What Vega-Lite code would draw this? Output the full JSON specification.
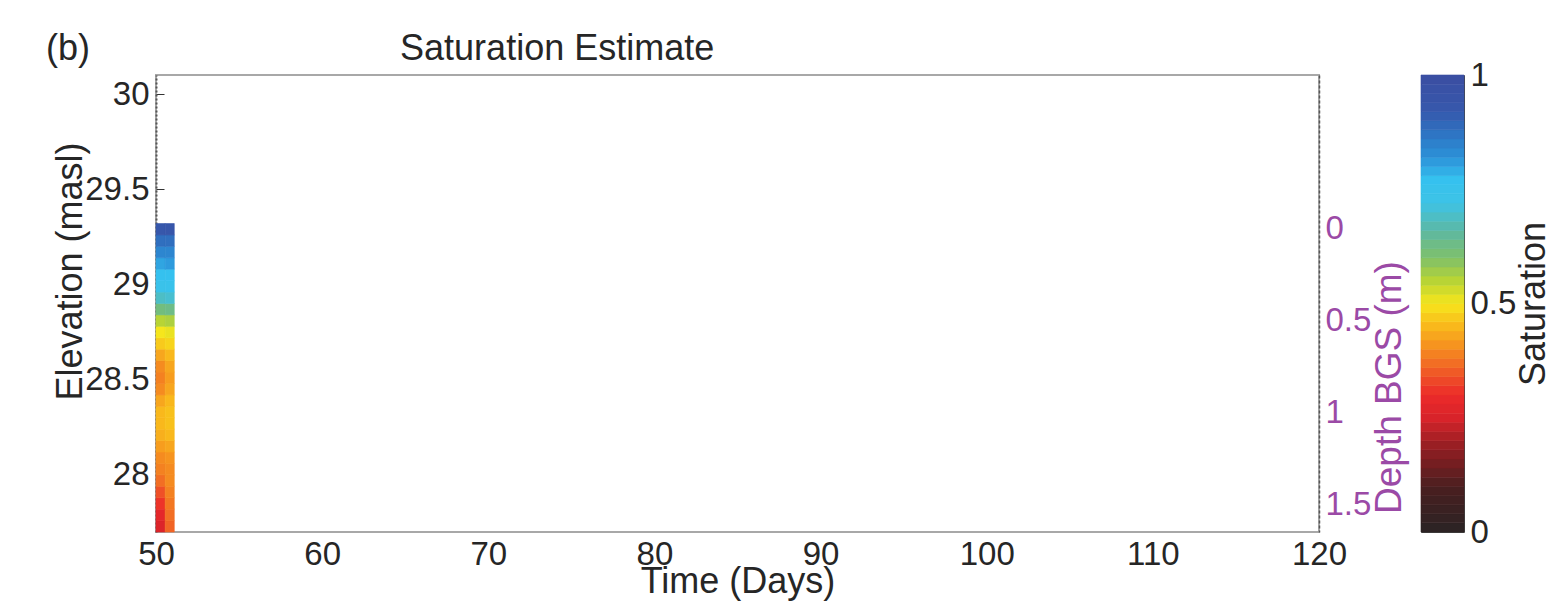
{
  "$schema": "https://vega.github.io/schema/vega-lite/v6.json",
  "background": "#ffffff",
  "padding": {"left": 45, "top": 30, "right": 5, "bottom": 5},
  "config": {
    "font": "Liberation Sans",
    "axis": {"labelFont": "Liberation Sans", "titleFont": "Liberation Sans", "labelFontSize": 33, "titleFontSize": 36, "titleFontWeight": "normal", "labelColor": "#262626", "titleColor": "#262626", "grid": false, "labelFlush": false}
  },
  "datasets": {
    "strip": [
      {"t0": 50, "t1": 50.55, "e0": 27.70, "e1": 27.76, "s": 0.26}, {"t0": 50.55, "t1": 51.1, "e0": 27.70, "e1": 27.76, "s": 0.36},
      {"t0": 50, "t1": 50.55, "e0": 27.76, "e1": 27.82, "s": 0.28}, {"t0": 50.55, "t1": 51.1, "e0": 27.76, "e1": 27.82, "s": 0.37},
      {"t0": 50, "t1": 50.55, "e0": 27.82, "e1": 27.88, "s": 0.31}, {"t0": 50.55, "t1": 51.1, "e0": 27.82, "e1": 27.88, "s": 0.38},
      {"t0": 50, "t1": 50.55, "e0": 27.88, "e1": 27.94, "s": 0.34}, {"t0": 50.55, "t1": 51.1, "e0": 27.88, "e1": 27.94, "s": 0.39},
      {"t0": 50, "t1": 50.55, "e0": 27.94, "e1": 28.00, "s": 0.37}, {"t0": 50.55, "t1": 51.1, "e0": 27.94, "e1": 28.00, "s": 0.40},
      {"t0": 50, "t1": 50.55, "e0": 28.00, "e1": 28.06, "s": 0.39}, {"t0": 50.55, "t1": 51.1, "e0": 28.00, "e1": 28.06, "s": 0.40},
      {"t0": 50, "t1": 50.55, "e0": 28.06, "e1": 28.12, "s": 0.40}, {"t0": 50.55, "t1": 51.1, "e0": 28.06, "e1": 28.12, "s": 0.41},
      {"t0": 50, "t1": 50.55, "e0": 28.12, "e1": 28.18, "s": 0.42}, {"t0": 50.55, "t1": 51.1, "e0": 28.12, "e1": 28.18, "s": 0.43},
      {"t0": 50, "t1": 50.55, "e0": 28.18, "e1": 28.24, "s": 0.44}, {"t0": 50.55, "t1": 51.1, "e0": 28.18, "e1": 28.24, "s": 0.45},
      {"t0": 50, "t1": 50.55, "e0": 28.24, "e1": 28.30, "s": 0.45}, {"t0": 50.55, "t1": 51.1, "e0": 28.24, "e1": 28.30, "s": 0.46},
      {"t0": 50, "t1": 50.55, "e0": 28.30, "e1": 28.36, "s": 0.45}, {"t0": 50.55, "t1": 51.1, "e0": 28.30, "e1": 28.36, "s": 0.46},
      {"t0": 50, "t1": 50.55, "e0": 28.36, "e1": 28.42, "s": 0.43}, {"t0": 50.55, "t1": 51.1, "e0": 28.36, "e1": 28.42, "s": 0.45},
      {"t0": 50, "t1": 50.55, "e0": 28.42, "e1": 28.48, "s": 0.40}, {"t0": 50.55, "t1": 51.1, "e0": 28.42, "e1": 28.48, "s": 0.43},
      {"t0": 50, "t1": 50.55, "e0": 28.48, "e1": 28.54, "s": 0.39}, {"t0": 50.55, "t1": 51.1, "e0": 28.48, "e1": 28.54, "s": 0.42},
      {"t0": 50, "t1": 50.55, "e0": 28.54, "e1": 28.60, "s": 0.40}, {"t0": 50.55, "t1": 51.1, "e0": 28.54, "e1": 28.60, "s": 0.43},
      {"t0": 50, "t1": 50.55, "e0": 28.60, "e1": 28.66, "s": 0.43}, {"t0": 50.55, "t1": 51.1, "e0": 28.60, "e1": 28.66, "s": 0.45},
      {"t0": 50, "t1": 50.55, "e0": 28.66, "e1": 28.72, "s": 0.47}, {"t0": 50.55, "t1": 51.1, "e0": 28.66, "e1": 28.72, "s": 0.48},
      {"t0": 50, "t1": 50.55, "e0": 28.72, "e1": 28.78, "s": 0.50}, {"t0": 50.55, "t1": 51.1, "e0": 28.72, "e1": 28.78, "s": 0.51},
      {"t0": 50, "t1": 50.55, "e0": 28.78, "e1": 28.84, "s": 0.55}, {"t0": 50.55, "t1": 51.1, "e0": 28.78, "e1": 28.84, "s": 0.56},
      {"t0": 50, "t1": 50.55, "e0": 28.84, "e1": 28.90, "s": 0.62}, {"t0": 50.55, "t1": 51.1, "e0": 28.84, "e1": 28.90, "s": 0.63},
      {"t0": 50, "t1": 50.55, "e0": 28.90, "e1": 28.96, "s": 0.69}, {"t0": 50.55, "t1": 51.1, "e0": 28.90, "e1": 28.96, "s": 0.70},
      {"t0": 50, "t1": 50.55, "e0": 28.96, "e1": 29.02, "s": 0.74}, {"t0": 50.55, "t1": 51.1, "e0": 28.96, "e1": 29.02, "s": 0.75},
      {"t0": 50, "t1": 50.55, "e0": 29.02, "e1": 29.08, "s": 0.77}, {"t0": 50.55, "t1": 51.1, "e0": 29.02, "e1": 29.08, "s": 0.77},
      {"t0": 50, "t1": 50.55, "e0": 29.08, "e1": 29.14, "s": 0.80}, {"t0": 50.55, "t1": 51.1, "e0": 29.08, "e1": 29.14, "s": 0.81},
      {"t0": 50, "t1": 50.55, "e0": 29.14, "e1": 29.20, "s": 0.84}, {"t0": 50.55, "t1": 51.1, "e0": 29.14, "e1": 29.20, "s": 0.84},
      {"t0": 50, "t1": 50.55, "e0": 29.20, "e1": 29.26, "s": 0.88}, {"t0": 50.55, "t1": 51.1, "e0": 29.20, "e1": 29.26, "s": 0.88},
      {"t0": 50, "t1": 50.55, "e0": 29.26, "e1": 29.32, "s": 0.93}, {"t0": 50.55, "t1": 51.1, "e0": 29.26, "e1": 29.32, "s": 0.94}
    ],
    "ground": [{"depth": 0}],
    "bar": [
      {"lo": 0.00, "hi": 0.02, "s": 0.01}, {"lo": 0.02, "hi": 0.04, "s": 0.03}, {"lo": 0.04, "hi": 0.06, "s": 0.05}, {"lo": 0.06, "hi": 0.08, "s": 0.07}, {"lo": 0.08, "hi": 0.10, "s": 0.09},
      {"lo": 0.10, "hi": 0.12, "s": 0.11}, {"lo": 0.12, "hi": 0.14, "s": 0.13}, {"lo": 0.14, "hi": 0.16, "s": 0.15}, {"lo": 0.16, "hi": 0.18, "s": 0.17}, {"lo": 0.18, "hi": 0.20, "s": 0.19},
      {"lo": 0.20, "hi": 0.22, "s": 0.21}, {"lo": 0.22, "hi": 0.24, "s": 0.23}, {"lo": 0.24, "hi": 0.26, "s": 0.25}, {"lo": 0.26, "hi": 0.28, "s": 0.27}, {"lo": 0.28, "hi": 0.30, "s": 0.29},
      {"lo": 0.30, "hi": 0.32, "s": 0.31}, {"lo": 0.32, "hi": 0.34, "s": 0.33}, {"lo": 0.34, "hi": 0.36, "s": 0.35}, {"lo": 0.36, "hi": 0.38, "s": 0.37}, {"lo": 0.38, "hi": 0.40, "s": 0.39},
      {"lo": 0.40, "hi": 0.42, "s": 0.41}, {"lo": 0.42, "hi": 0.44, "s": 0.43}, {"lo": 0.44, "hi": 0.46, "s": 0.45}, {"lo": 0.46, "hi": 0.48, "s": 0.47}, {"lo": 0.48, "hi": 0.50, "s": 0.49},
      {"lo": 0.50, "hi": 0.52, "s": 0.51}, {"lo": 0.52, "hi": 0.54, "s": 0.53}, {"lo": 0.54, "hi": 0.56, "s": 0.55}, {"lo": 0.56, "hi": 0.58, "s": 0.57}, {"lo": 0.58, "hi": 0.60, "s": 0.59},
      {"lo": 0.60, "hi": 0.62, "s": 0.61}, {"lo": 0.62, "hi": 0.64, "s": 0.63}, {"lo": 0.64, "hi": 0.66, "s": 0.65}, {"lo": 0.66, "hi": 0.68, "s": 0.67}, {"lo": 0.68, "hi": 0.70, "s": 0.69},
      {"lo": 0.70, "hi": 0.72, "s": 0.71}, {"lo": 0.72, "hi": 0.74, "s": 0.73}, {"lo": 0.74, "hi": 0.76, "s": 0.75}, {"lo": 0.76, "hi": 0.78, "s": 0.77}, {"lo": 0.78, "hi": 0.80, "s": 0.79},
      {"lo": 0.80, "hi": 0.82, "s": 0.81}, {"lo": 0.82, "hi": 0.84, "s": 0.83}, {"lo": 0.84, "hi": 0.86, "s": 0.85}, {"lo": 0.86, "hi": 0.88, "s": 0.87}, {"lo": 0.88, "hi": 0.90, "s": 0.89},
      {"lo": 0.90, "hi": 0.92, "s": 0.91}, {"lo": 0.92, "hi": 0.94, "s": 0.93}, {"lo": 0.94, "hi": 0.96, "s": 0.95}, {"lo": 0.96, "hi": 0.98, "s": 0.97}, {"lo": 0.98, "hi": 1.00, "s": 0.99}
    ]
  },
  "hconcat": [
    {
      "width": 1163,
      "height": 457,
      "view": {"stroke": "#a8a8a8", "strokeWidth": 2},
      "title": {
        "text": "(b)\u00a0\u00a0\u00a0\u00a0\u00a0\u00a0\u00a0\u00a0\u00a0\u00a0\u00a0\u00a0\u00a0\u00a0\u00a0\u00a0\u00a0\u00a0\u00a0\u00a0\u00a0\u00a0\u00a0\u00a0\u00a0\u00a0\u00a0\u00a0\u00a0\u00a0\u00a0Saturation Estimate",
        "anchor": "start",
        "frame": "group",
        "dx": -110,
        "offset": -21,
        "baseline": "alphabetic",
        "font": "Liberation Sans",
        "fontSize": 36,
        "fontWeight": "normal",
        "color": "#262626"
      },
      "layer": [
        {
          "data": {"name": "strip"},
          "mark": {"type": "rect", "strokeWidth": 0.6},
          "encoding": {
            "x": {"field": "t0", "type": "quantitative", "scale": {"domain": [50, 120], "nice": false, "zero": false},
                  "axis": {"title": "Time (Days)", "values": [50, 60, 70, 80, 90, 100, 110, 120], "ticks": false, "domain": false, "labelFlush": false, "labelPadding": 6, "titleY": 60, "titleBaseline": "alphabetic"}},
            "x2": {"field": "t1"},
            "y": {"field": "e0", "type": "quantitative", "scale": {"domain": [27.7, 30.1], "nice": false, "zero": false},
                  "axis": {"orient": "left", "title": "Elevation (masl)", "values": [28, 28.5, 29, 29.5, 30], "format": "~g", "tickSize": -8, "tickColor": "#333", "labelPadding": 15, "domainColor": "#555", "domainWidth": 2, "domainDash": [2, 2], "titleX": -75, "titleY": 196, "titleBaseline": "alphabetic"}},
            "y2": {"field": "e1"},
            "color": {"field": "s", "type": "quantitative",
                      "scale": {"type": "linear", "domain": [0, 0.1, 0.18, 0.25, 0.3, 0.35, 0.4, 0.45, 0.5, 0.55, 0.6, 0.66, 0.72, 0.77, 0.82, 0.87, 0.92, 1],
                                "range": ["#2a2324", "#4a1f20", "#8e1e22", "#d8232a", "#ec2a2a", "#f05a26", "#f58b20", "#f9b81c", "#f6e61c", "#b8d435", "#7fc06a", "#5cb8a4", "#3ec3e6", "#35c1ef", "#2c92d8", "#2e75c4", "#3658ac", "#3b4ea2"], "interpolate": "rgb"},
                      "legend": null},
            "stroke": {"field": "s", "type": "quantitative",
                      "scale": {"type": "linear", "domain": [0, 0.1, 0.18, 0.25, 0.3, 0.35, 0.4, 0.45, 0.5, 0.55, 0.6, 0.66, 0.72, 0.77, 0.82, 0.87, 0.92, 1],
                                "range": ["#2a2324", "#4a1f20", "#8e1e22", "#d8232a", "#ec2a2a", "#f05a26", "#f58b20", "#f9b81c", "#f6e61c", "#b8d435", "#7fc06a", "#5cb8a4", "#3ec3e6", "#35c1ef", "#2c92d8", "#2e75c4", "#3658ac", "#3b4ea2"], "interpolate": "rgb"},
                      "legend": null}
          }
        },
        {
          "data": {"name": "ground"},
          "mark": {"type": "rule", "opacity": 0},
          "encoding": {
            "y": {"field": "depth", "type": "quantitative", "scale": {"domain": [-0.837, 1.647], "reverse": true, "nice": false, "zero": false},
                  "axis": {"orient": "right", "title": "Depth BGS (m)", "values": [0, 0.5, 1, 1.5], "format": "~g", "ticks": false, "labelPadding": 6, "labelColor": "#9b4aa6", "titleColor": "#9b4aa6", "titleFontSize": 37, "domainColor": "#555", "domainWidth": 1.5, "domainDash": [3, 2], "titleAngle": -90, "titleX": 81, "titleY": 312, "titleBaseline": "alphabetic"}}
          }
        }
      ],
      "resolve": {"scale": {"y": "independent"}, "axis": {"y": "independent"}}
    },
    {
      "width": 43,
      "height": 457,
      "view": {"stroke": "#444", "strokeWidth": 1},
      "data": {"name": "bar"},
      "mark": {"type": "rect", "strokeWidth": 0.6},
      "encoding": {
        "y": {"field": "lo", "type": "quantitative", "scale": {"domain": [0, 1], "nice": false, "zero": false},
              "axis": {"orient": "right", "title": "Saturation", "values": [0, 0.5, 1], "format": "~g", "ticks": false, "domain": false, "labelPadding": 6, "titleAngle": -90, "titleX": 80, "titleBaseline": "alphabetic"}},
        "y2": {"field": "hi"},
        "color": {"field": "s", "type": "quantitative",
                  "scale": {"type": "linear", "domain": [0, 0.1, 0.18, 0.25, 0.3, 0.35, 0.4, 0.45, 0.5, 0.55, 0.6, 0.66, 0.72, 0.77, 0.82, 0.87, 0.92, 1],
                            "range": ["#2a2324", "#4a1f20", "#8e1e22", "#d8232a", "#ec2a2a", "#f05a26", "#f58b20", "#f9b81c", "#f6e61c", "#b8d435", "#7fc06a", "#5cb8a4", "#3ec3e6", "#35c1ef", "#2c92d8", "#2e75c4", "#3658ac", "#3b4ea2"], "interpolate": "rgb"},
                  "legend": null},
        "stroke": {"field": "s", "type": "quantitative",
                  "scale": {"type": "linear", "domain": [0, 0.1, 0.18, 0.25, 0.3, 0.35, 0.4, 0.45, 0.5, 0.55, 0.6, 0.66, 0.72, 0.77, 0.82, 0.87, 0.92, 1],
                            "range": ["#2a2324", "#4a1f20", "#8e1e22", "#d8232a", "#ec2a2a", "#f05a26", "#f58b20", "#f9b81c", "#f6e61c", "#b8d435", "#7fc06a", "#5cb8a4", "#3ec3e6", "#35c1ef", "#2c92d8", "#2e75c4", "#3658ac", "#3b4ea2"], "interpolate": "rgb"},
                  "legend": null}
      }
    }
  ],
  "spacing": 102,
  "bounds": "flush"
}
